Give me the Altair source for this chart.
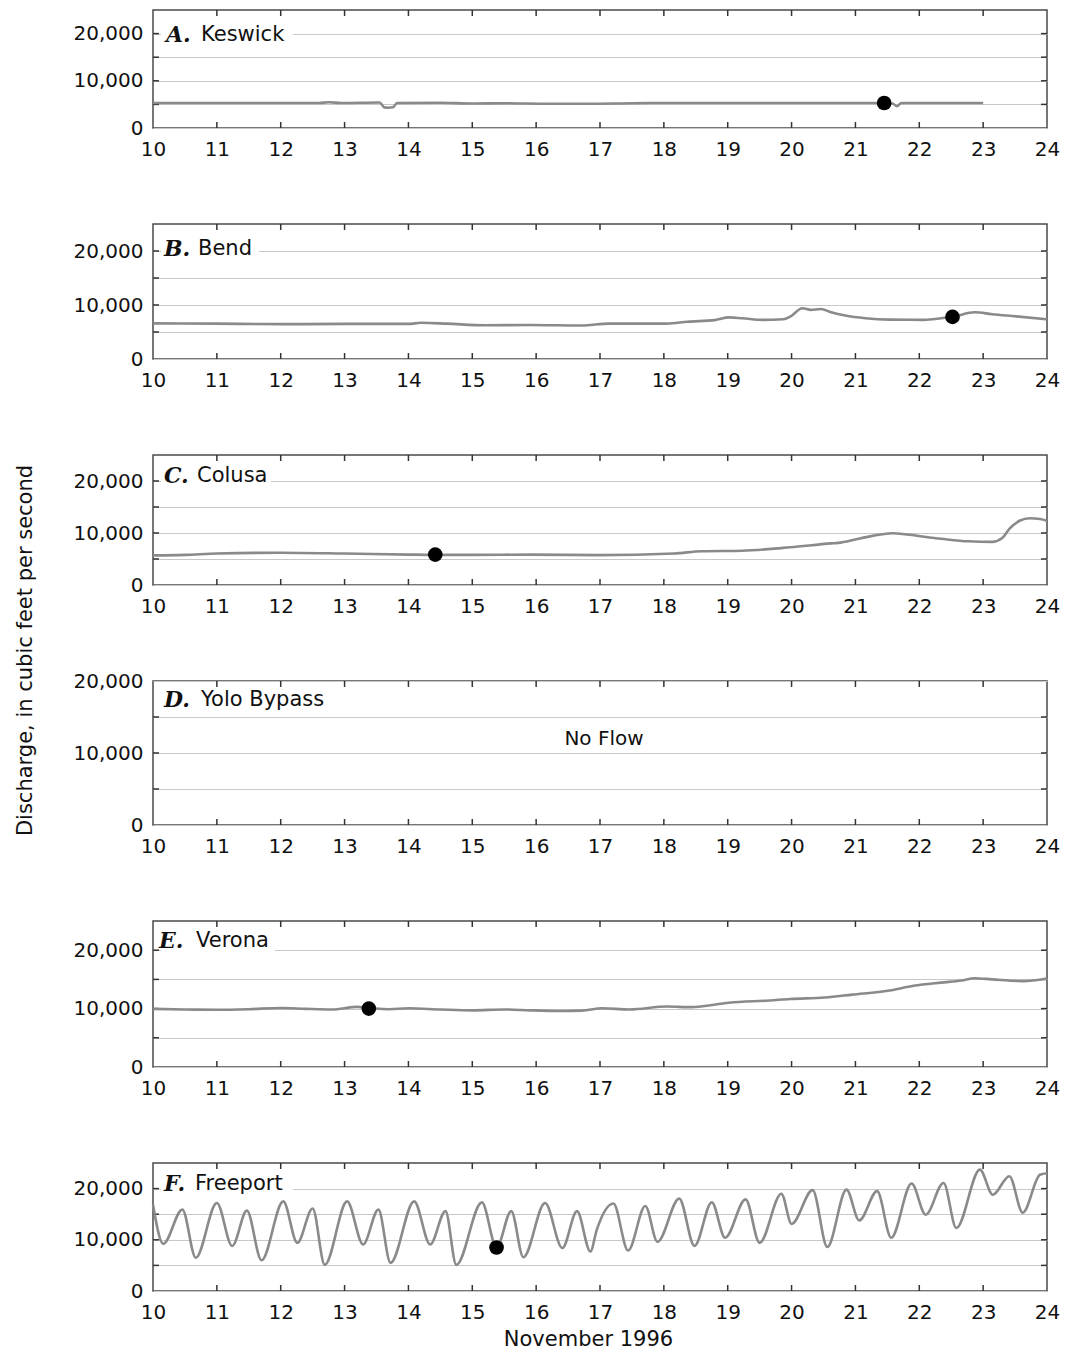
import altair as alt
import pandas as pd

# ---------------- data ----------------
X_TICKS = list(range(11, 24))
X_LABELS = list(range(10, 25))
Y_TICKS = [5000, 10000, 15000, 20000]
Y_GRID = [0, 5000, 10000, 15000, 20000]

a_day = [10, 11, 12, 12.6, 12.75, 12.95, 13.55, 13.62, 13.68, 13.76, 13.82, 14.5, 15, 15.5,
         16.2, 16.8, 17.5, 18, 19, 20, 21, 21.45, 21.58, 21.65, 21.72, 22, 23]
a_q = [5300, 5300, 5300, 5300, 5450, 5300, 5400, 4400, 4300, 4400, 5300, 5350, 5200, 5250,
       5150, 5150, 5250, 5300, 5300, 5300, 5300, 5300, 5200, 4600, 5300, 5300, 5300]
a_dot = ([21.45], [5300])

b_day = [10, 11, 12, 13, 14, 14.2, 14.6, 15.2, 15.91, 16.71, 17.14, 18.05, 18.37, 18.8, 19.02,
         19.23, 19.55, 19.87, 19.98, 20.17, 20.3, 20.46, 20.62, 20.84, 21.16, 21.53, 22.07,
         22.34, 22.53, 22.87, 23.14, 23.52, 24]
b_q = [6600, 6550, 6450, 6500, 6500, 6700, 6550, 6250, 6300, 6200, 6550, 6560, 6900, 7200, 7700,
       7550, 7250, 7350, 7850, 9400, 9100, 9250, 8650, 8050, 7550, 7300, 7250,
       7550, 7850, 8650, 8300, 7900, 7350]
b_dot = ([22.52], [7800])

c_day = [10, 10.5, 11, 12, 13, 14, 14.42, 15, 15.91, 16.98, 18.16, 18.59, 19.23, 19.98, 20.62,
         20.73, 21.05, 21.59, 21.8, 22.34, 22.77, 23.14, 23.3, 23.41, 23.57, 23.73, 23.89, 24]
c_q = [5700, 5800, 6050, 6200, 6050, 5850, 5800, 5800, 5850, 5750, 6050, 6500, 6600, 7250, 8000,
       8100, 8900, 9950, 9700, 8900, 8400, 8300, 9050, 10800, 12350, 12850, 12700, 12350]
c_dot = ([14.42], [5850])

e_day = [10, 10.5, 11, 11.5, 12, 12.4, 12.8, 13.2, 13.4, 13.7, 14, 14.5, 15, 15.5, 15.91, 16.4,
         16.71, 17.03, 17.46, 18.05, 18.43, 19.02, 19.66, 19.98, 20.52, 20.95, 21.53, 21.91,
         22.34, 22.66, 22.87, 23.14, 23.62, 24]
e_q = [9950, 9850, 9800, 9900, 10100, 9950, 9850, 10300, 10100, 9900, 10050, 9850, 9700, 9850,
       9700, 9600, 9650, 10050, 9850, 10350, 10250, 11000, 11400, 11650, 11900, 12400, 13100,
       13900, 14450, 14800, 15200, 15000, 14700, 15150]
e_dot = ([13.38], [10000])

f_day = [10.0, 10.16, 10.46, 10.67, 11.0, 11.24, 11.47, 11.7, 12.04, 12.26, 12.5, 12.69, 13.04,
         13.29, 13.53, 13.72, 14.09, 14.34, 14.58, 14.75, 15.15, 15.38, 15.61, 15.8, 16.14,
         16.41, 16.64, 16.85, 16.95, 17.21, 17.44, 17.71, 17.9, 18.24, 18.48, 18.75, 18.96,
         19.28, 19.5, 19.84, 20.0, 20.33, 20.56, 20.86, 21.06, 21.34, 21.56, 21.88, 22.1,
         22.38, 22.58, 22.95, 23.15, 23.41, 23.62, 23.89, 24.0]
f_q = [16900, 9200, 15900, 6500, 17200, 8800, 15700, 6000, 17500, 9400, 16100, 5100, 17500,
       9100, 15900, 5500, 17500, 9100, 15600, 5100, 17300, 8500, 15600, 6600, 17200,
       8400, 15600, 7700, 12000, 17100, 7900, 16600, 9600, 18050, 8800, 17300, 10400,
       17900, 9400, 19000, 13100, 19700, 8600, 19800, 13800, 19500, 10400, 21000, 14900,
       21100, 12300, 23700, 18800, 22400, 15300, 22700, 23000]
f_dot = ([15.38], [8500])

# ---------------- styling ----------------
W = 894
FONT = "DejaVu Sans"
LINE_COLOR = "#8a8a8a"
TICK_COLOR = "#333333"


def panel(letter, name, days, q, dot, height, ymax, label_y, mask_w, letter_x, name_x,
          last=False, ytitle=False, note=None):
    xs = alt.Scale(domain=[10, 24], nice=False, zero=False)
    ys = alt.Scale(domain=[0, ymax], nice=False)

    xaxis_kw = dict(values=X_LABELS, format="d", ticks=False, domain=False, grid=False,
                    labelPadding=11, tickSize=0, labelFlush=False)
    if last:
        xaxis_kw.update(titlePadding=6, titleX=435)
    xaxis = alt.Axis(**xaxis_kw)

    yaxis_kw = dict(values=Y_GRID, ticks=False, domain=False, grid=True, tickSize=0,
                    labelPadding=10, labelFlush=False,
                    labelExpr="datum.value % 10000 === 0 ? format(datum.value, ',') : ''")
    if ytitle:
        yaxis_kw.update(titleX=-118, titleY=-31)
    yaxis = alt.Axis(**yaxis_kw)

    xtitle = "November 1996" if last else None
    ytitle_txt = "Discharge, in cubic feet per second" if ytitle else None

    xenc = alt.X("day:Q", scale=xs, axis=xaxis, title=xtitle)
    yenc = alt.Y("q:Q", scale=ys, axis=yaxis, title=ytitle_txt)

    xt = pd.DataFrame({"day": X_TICKS})
    yt = pd.DataFrame({"q": [v for v in Y_TICKS if v < ymax]})

    layers = []
    # tick rules (carry the axes)
    layers.append(alt.Chart(xt).mark_rule(color=TICK_COLOR, strokeWidth=1.5).encode(
        x=xenc, y=alt.value(0), y2=alt.value(6)))
    layers.append(alt.Chart(xt).mark_rule(color=TICK_COLOR, strokeWidth=1.5).encode(
        x=xenc, y=alt.value(height - 6), y2=alt.value(height)))
    layers.append(alt.Chart(yt).mark_rule(color=TICK_COLOR, strokeWidth=1.5).encode(
        y=yenc, x=alt.value(0), x2=alt.value(6)))
    layers.append(alt.Chart(yt).mark_rule(color=TICK_COLOR, strokeWidth=1.5).encode(
        y=yenc, x=alt.value(W - 6), x2=alt.value(W)))

    # white mask behind the panel label
    lab = pd.DataFrame({"letter": [letter], "name": [name]})
    layers.append(alt.Chart(lab).mark_rect(color="white").encode(
        x=alt.value(8), x2=alt.value(mask_w),
        y=alt.value(label_y - 11), y2=alt.value(label_y + 11)))

    if days is not None:
        df = pd.DataFrame({"day": days, "q": q})
        layers.append(alt.Chart(df).mark_line(color=LINE_COLOR, strokeWidth=2.6,
                                              interpolate="monotone").encode(x=xenc, y=yenc))
    if dot is not None:
        dd = pd.DataFrame({"day": dot[0], "q": dot[1]})
        layers.append(alt.Chart(dd).mark_point(filled=True, color="black", opacity=1,
                                               size=215, shape="circle").encode(x=xenc, y=yenc))

    layers.append(alt.Chart(lab).mark_text(font="DejaVu Serif", fontStyle="italic",
                                           fontWeight="bold", fontSize=22, align="left",
                                           baseline="middle", color="#111111").encode(
        text="letter:N", x=alt.value(letter_x), y=alt.value(label_y)))
    layers.append(alt.Chart(lab).mark_text(font=FONT, fontSize=21, align="left",
                                           baseline="middle", color="#111111").encode(
        text="name:N", x=alt.value(name_x), y=alt.value(label_y)))

    if note is not None:
        nd = pd.DataFrame({"note": [note]})
        layers.append(alt.Chart(nd).mark_text(font=FONT, fontSize=20, align="center",
                                              baseline="middle", color="#111111").encode(
            text="note:N", x=alt.value(451), y=alt.value(58)))

    return alt.layer(*layers).properties(width=W, height=height)


pA = panel("A.", "Keswick", a_day, a_q, a_dot, 118, 25000, 25, 140, 13, 48)
pB = panel("B.", "Bend", b_day, b_q, b_dot, 135, 25000, 25, 106, 11, 45)
pC = panel("C.", "Colusa", c_day, c_q, c_dot, 130, 25000, 21, 118, 11, 44)
pD = panel("D.", "Yolo Bypass", None, None, None, 144, 20000, 19, 8, 11, 48,
           ytitle=True, note="No Flow")
pE = panel("E.", "Verona", e_day, e_q, e_dot, 146, 25000, 20, 122, 6, 43)
pF = panel("F.", "Freeport", f_day, f_q, f_dot, 128, 25000, 21, 140, 11, 42, last=True)

chart = alt.vconcat(pA, pB, pC, pD, pE, pF, spacing=96, bounds="flush").resolve_scale(
    y="independent"
).configure_view(
    stroke="#4a4a4a", strokeWidth=1.5
).configure_axis(
    labelFont=FONT, labelFontSize=20, labelColor="#111111",
    titleFont=FONT, titleFontSize=21, titleFontWeight="normal", titleColor="#111111",
    gridColor="#c8c8c8", gridWidth=1.2
).properties(
    padding={"left": 5, "top": 0, "right": 0, "bottom": 0},
    background="white"
)

chart.save("out.html", embed_options={"renderer": "svg", "actions": False})
